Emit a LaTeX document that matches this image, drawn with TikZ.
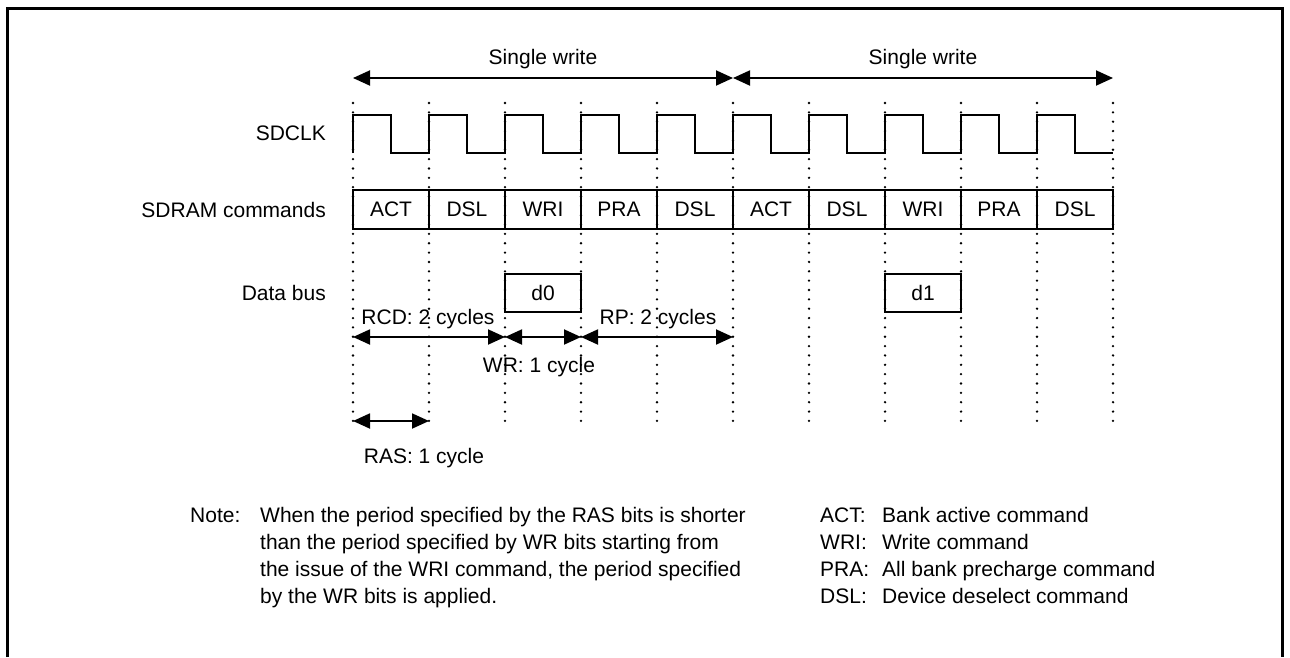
\documentclass[tikz,border=0pt]{standalone}
\usepackage{fontspec}
\setmainfont{Liberation Sans}
\usetikzlibrary{arrows.meta,positioning}

\begin{document}
\begin{tikzpicture}[x=1pt,y=-1pt,
  font=\fontsize{21}{25}\selectfont,
  sig/.style={line width=1.9pt},
  guide/.style={line width=2.6pt,line cap=round,dash pattern=on 0pt off 9.35pt},
  cell/.style={draw,line width=1.9pt,minimum width=76pt,minimum height=39pt,inner sep=0pt},
  span/.style={line width=1.9pt,{Triangle[length=17pt,width=15pt]}-{Triangle[length=17pt,width=15pt]}},
  lbl/.style={anchor=base,inner sep=0pt},
  row/.style={anchor=base east,inner sep=0pt},
  txt/.style={anchor=base west,inner sep=0pt}]
  \useasboundingbox (0,0) rectangle (1290,657);

  % Frame
  \draw[line width=3pt] (7,657) -- (7,8) -- (1282,8) -- (1282,657);

  % Cycle guides
  \foreach \k in {0,...,10}{
    \coordinate (g\k) at ({353+76*\k},103);
    \coordinate (h\k) at ({353+76*\k},421);
    \draw[guide] (g\k) -- (h\k);
  }
  \coordinate (wrow) at (0,78);
  \coordinate (trow) at (0,337);
  \coordinate (rrow) at (0,421);

  % Row labels
  \node[row] (sdclk) at (326,140) {SDCLK};
  \node[row] (cmds) at (326,217) {SDRAM commands};
  \node[row] (dbus) at (326,300) {Data bus};

  % Clock
  \draw[sig] (353,153) \foreach \k in {0,...,9}{
    -- ({353+76*\k},115) -- ({391+76*\k},115) -- ({391+76*\k},153) -- ({429+76*\k},153)};

  % Commands
  \foreach \c [count=\i] in {ACT,DSL,WRI,PRA,DSL,ACT,DSL,WRI,PRA,DSL}
    \node[cell] (cmd\i) at ({315+76*\i},209.5) {\c};

  % Data bus
  \node[cell,minimum height=38pt] (d0) at (543,293) {d0};
  \node[cell,minimum height=38pt] (d1) at (923,293) {d1};

  % Single write spans
  \draw[span] (g0|-wrow) -- (g5|-wrow);
  \draw[span] (g5|-wrow) -- (g10|-wrow);
  \node[lbl] (sw1) at (543,64) {Single write};
  \node[lbl] (sw2) at (923,64) {Single write};

  % Timing spans
  \draw[span] (g0|-trow) -- (g2|-trow);
  \draw[span] (g2|-trow) -- (g3|-trow);
  \draw[span] (g3|-trow) -- (g5|-trow);
  \draw[span] (g0|-rrow) -- (g1|-rrow);
  \node[lbl] (rcd) at (428,324) {RCD: 2 cycles};
  \node[lbl] (rp) at (658,324) {RP: 2 cycles};
  \node[lbl] (wr) at (539,372) {WR: 1 cycle};
  \node[lbl] (ras) at (424,463) {RAS: 1 cycle};

  % Note
  \node[txt] (note) at (190,522) {Note:};
  \node[txt] (n1) at (260,522) {When the period specified by the RAS bits is shorter};
  \node[txt] (n2) at (260,549) {than the period specified by WR bits starting from};
  \node[txt] (n3) at (260,576) {the issue of the WRI command, the period specified};
  \node[txt] (n4) at (260,603) {by the WR bits is applied.};

  % Legend
  \node[txt] (kact) at (820,522) {ACT:};
  \node[txt] (vact) at (882,522) {Bank active command};
  \node[txt] (kwri) at (820,549) {WRI:};
  \node[txt] (vwri) at (882,549) {Write command};
  \node[txt] (kpra) at (820,576) {PRA:};
  \node[txt] (vpra) at (882,576) {All bank precharge command};
  \node[txt] (kdsl) at (820,603) {DSL:};
  \node[txt] (vdsl) at (882,603) {Device deselect command};
\end{tikzpicture}
\end{document}
